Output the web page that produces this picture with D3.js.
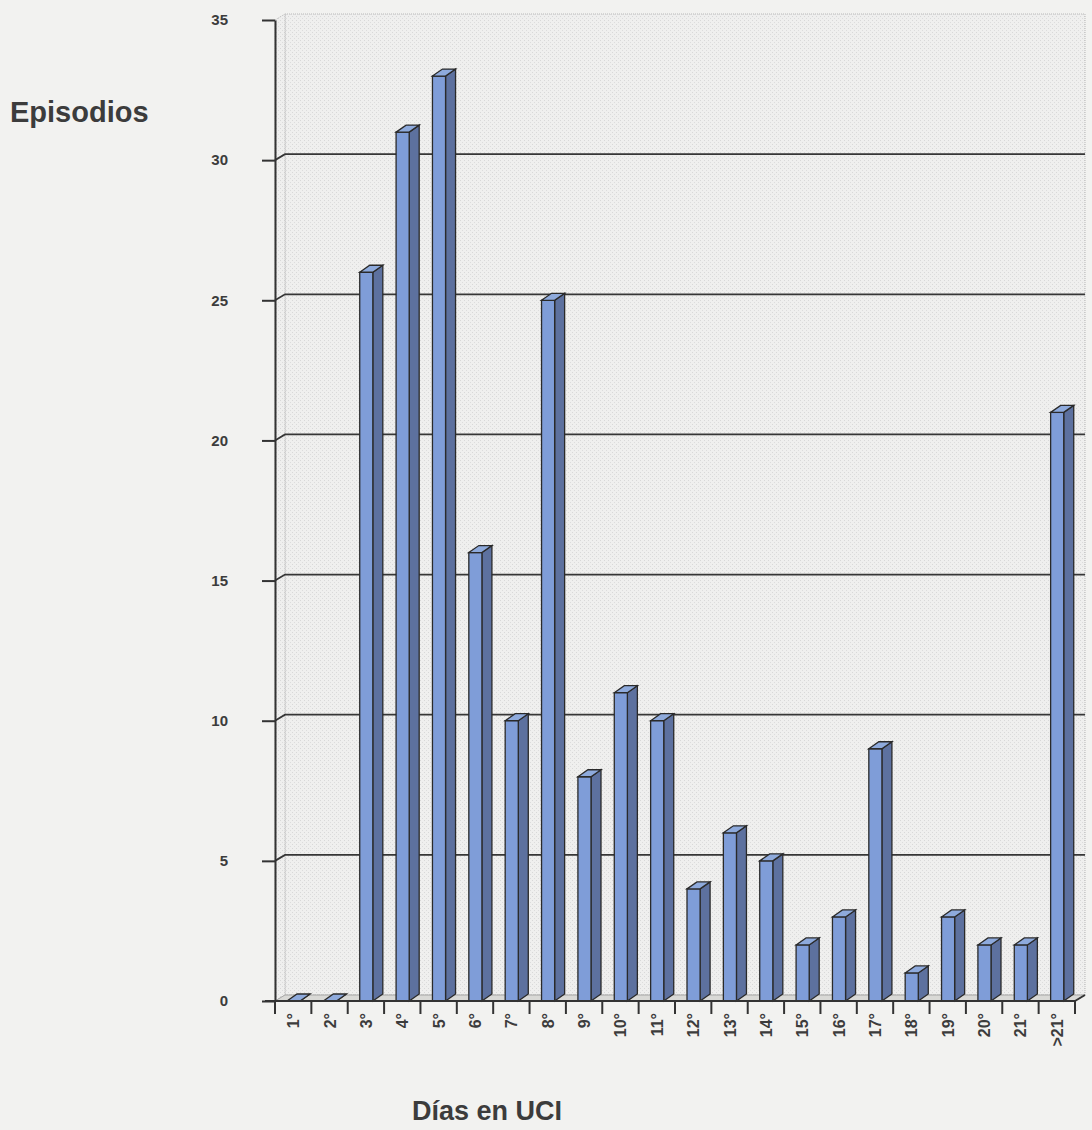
<!DOCTYPE html>
<html>
<head>
<meta charset="utf-8">
<script src="https://cdn.jsdelivr.net/npm/d3@7"></script>
<style>
  html, body { margin: 0; padding: 0; background: #f2f2f0; }
  svg { display: block; }
  text { font-family: "Liberation Sans", Arial, sans-serif; font-weight: bold; fill: #3c3c3c; }
</style>
</head>
<body>
<svg id="chart" width="1092" height="1130"></svg>
<script>
// Days in ICU and number of episodes for each day
const categories = ["1°","2°","3°","4°","5°","6°","7°","8°","9°","10°","11°","12°","13°","14°","15°","16°","17°","18°","19°","20°","21°",">21°"];
const episodes   = [0, 0, 26, 31, 33, 16, 10, 25, 8, 11, 10, 4, 6, 5, 2, 3, 9, 1, 3, 2, 2, 21];
const yTicks     = [0, 5, 10, 15, 20, 25, 30, 35];

const svg = d3.select("#chart");

// plot frame (front plane) and 3D depth offsets
const plotLeft = 275, plotRight = 1075, plotTop = 20, plotBottom = 1001;
const wallDx = 10, wallDy = -6;   // back wall offset
const barDx = 10, barDy = -7;     // bar depth offset

const x = d3.scaleBand().domain(categories).range([plotLeft, plotRight]).paddingInner(0).paddingOuter(0);
const y = d3.scaleLinear().domain([0, 35]).range([plotBottom, plotTop]);

// dotted texture for the walls
const defs = svg.append("defs");
const pat = defs.append("pattern").attr("id", "dots").attr("width", 4).attr("height", 4)
  .attr("patternUnits", "userSpaceOnUse");
pat.append("rect").attr("width", 4).attr("height", 4).attr("fill", "#efefee");
pat.append("rect").attr("x", 0).attr("y", 0).attr("width", 1).attr("height", 1).attr("fill", "#d8d8d8");
pat.append("rect").attr("x", 2).attr("y", 2).attr("width", 1).attr("height", 1).attr("fill", "#dcdcdc");

// back wall
svg.append("rect")
  .attr("x", plotLeft + wallDx).attr("y", plotTop + wallDy)
  .attr("width", plotRight - plotLeft).attr("height", plotBottom - plotTop)
  .attr("fill", "url(#dots)")
  .attr("stroke", "#b8b8b8").attr("stroke-dasharray", "1,1").attr("stroke-width", 1);

// side wall
svg.append("path")
  .attr("d", `M${plotLeft},${plotTop} L${plotLeft + wallDx},${plotTop + wallDy} L${plotLeft + wallDx},${plotBottom + wallDy} L${plotLeft},${plotBottom} Z`)
  .attr("fill", "url(#dots)").attr("stroke", "#b8b8b8").attr("stroke-dasharray", "1,1");

// floor
svg.append("path")
  .attr("d", `M${plotLeft},${plotBottom} L${plotLeft + wallDx},${plotBottom + wallDy} L${plotRight + wallDx},${plotBottom + wallDy} L${plotRight},${plotBottom} Z`)
  .attr("fill", "#d9d9d6").attr("stroke", "#9a9a9a").attr("stroke-width", 0.8);

// gridlines on back wall with the short diagonal across the side wall
const grid = svg.append("g");
yTicks.filter(t => t > 0 && t < 35).forEach(t => {
  grid.append("path")
    .attr("d", `M${plotLeft},${y(t)} L${plotLeft + wallDx},${y(t) + wallDy} L${plotRight + wallDx},${y(t) + wallDy}`)
    .attr("fill", "none").attr("stroke", "#363636").attr("stroke-width", 1.8);
});

// bars: front, side and top faces
const bx0 = b => x(b) + x.bandwidth() * 0.33;
const bw = x.bandwidth() * 0.36;
const bars = svg.append("g").selectAll("g").data(categories.map((c, i) => ({ c, v: episodes[i] })))
  .join("g");

bars.append("path") // side
  .attr("d", d => {
    const x1 = bx0(d.c) + bw, yt = y(d.v), yb = y(0);
    return `M${x1},${yb} L${x1},${yt} L${x1 + barDx},${yt + barDy} L${x1 + barDx},${yb + barDy} Z`;
  })
  .attr("fill", "#5d719f").attr("stroke", "#2a2a2a").attr("stroke-width", 1.3);

bars.append("rect") // front
  .attr("x", d => bx0(d.c)).attr("y", d => y(d.v))
  .attr("width", bw).attr("height", d => y(0) - y(d.v))
  .attr("fill", "#7f9dd8").attr("stroke", "#2a2a2a").attr("stroke-width", 1.3);

bars.append("path") // top
  .attr("d", d => {
    const x0 = bx0(d.c), yt = y(d.v);
    return `M${x0},${yt} L${x0 + barDx},${yt + barDy} L${x0 + bw + barDx},${yt + barDy} L${x0 + bw},${yt} Z`;
  })
  .attr("fill", "#8eaadc").attr("stroke", "#2a2a2a").attr("stroke-width", 1.3);

// y axis
const yAxis = svg.append("g").attr("transform", `translate(${plotLeft},0)`)
  .call(d3.axisLeft(y).tickValues(yTicks).tickSize(13).tickPadding(34).tickSizeOuter(0));
yAxis.select(".domain").attr("stroke", "#333").attr("stroke-width", 2);
yAxis.selectAll(".tick line").attr("stroke", "#333").attr("stroke-width", 2);
yAxis.selectAll(".tick text").attr("font-size", 15).attr("fill", "#3c3c3c")
  .attr("font-family", "Liberation Sans, Arial, sans-serif").attr("font-weight", "bold");

// x axis: ticks at category boundaries, labels rotated
const xAxisG = svg.append("g");
xAxisG.append("line").attr("x1", plotLeft - 10).attr("x2", plotRight).attr("y1", plotBottom).attr("y2", plotBottom)
  .attr("stroke", "#333").attr("stroke-width", 2);
xAxisG.append("line").attr("x1", plotRight).attr("y1", plotBottom).attr("x2", plotRight + wallDx).attr("y2", plotBottom + wallDy)
  .attr("stroke", "#333").attr("stroke-width", 2);
const bounds = categories.map(c => x(c)).concat([plotRight]);
xAxisG.selectAll("line.tk").data(bounds).join("line").attr("class", "tk")
  .attr("x1", d => d).attr("x2", d => d).attr("y1", plotBottom).attr("y2", plotBottom + 13)
  .attr("stroke", "#333").attr("stroke-width", 2);
xAxisG.selectAll("text").data(categories).join("text")
  .attr("transform", c => `translate(${x(c) + x.bandwidth() / 2 + 6},${plotBottom + 12}) rotate(-90)`)
  .attr("text-anchor", "end").attr("font-size", 16)
  .text(c => c);

// axis titles
svg.append("text").attr("x", 10).attr("y", 122).attr("font-size", 29).attr("fill", "#404040").text("Episodios");
svg.append("text").attr("x", 487).attr("y", 1120).attr("text-anchor", "middle").attr("font-size", 27)
  .attr("fill", "#404040").text("Días en UCI");
</script>
</body>
</html>
